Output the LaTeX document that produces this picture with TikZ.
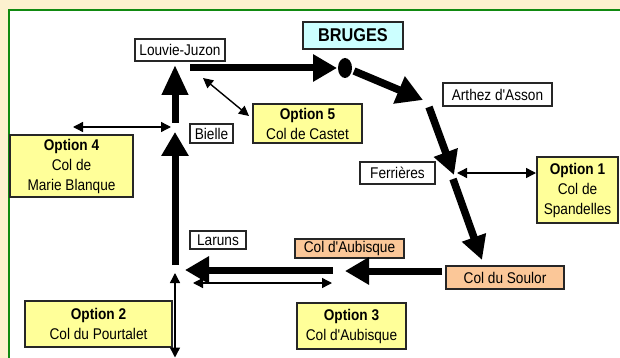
\documentclass[tikz,border=0pt]{standalone}
\usepackage{fontspec}
\setmainfont{Liberation Sans}[FakeStretch=0.88, Ligatures=TeXOff]
\usetikzlibrary{arrows.meta,shapes.geometric}
\definecolor{bgbeige}{HTML}{FDF1CF}
\definecolor{frgreen}{HTML}{118A11}
\definecolor{optyellow}{HTML}{FFFF99}
\definecolor{brcyan}{HTML}{CCFFFF}
\definecolor{colsalmon}{HTML}{FBC798}
\tikzset{
  lbl/.style={draw=black!85, line width=1.1pt, fill=white, inner sep=0pt, font=\fontsize{15.5}{18}\selectfont, align=center},
  optbox/.style={draw=black!85, line width=1.4pt, fill=optyellow, inner sep=0pt, font=\fontsize{15.5}{20}\selectfont, align=center},
  colbox/.style={lbl, fill=colsalmon},
  bigarrow/.style={line width=7pt, -{Triangle[width=26pt,length=24pt]}},
  diagarrow/.style={line width=7.5pt, -{Triangle[width=28pt,length=26pt]}},
  thinarrow/.style={line width=1.4pt, {Triangle[width=10pt,length=10pt]}-{Triangle[width=10pt,length=10pt]}},
}
\begin{document}
\begin{tikzpicture}[x=1pt,y=-1pt]
\fill[bgbeige] (0,0) rectangle (620,358);
\useasboundingbox (0,0) rectangle (620,358);
\fill[white] (8.5,10.5) rectangle (621,359);
\draw[frgreen, line width=2pt] (621,10.5) -- (8.5,10.5) -- (8.5,359);

% nodes
\node[lbl, minimum width=90pt, minimum height=22pt] (lj) at (180,50) {Louvie-Juzon};
\node[lbl, fill=brcyan, minimum width=100pt, minimum height=27pt, font=\bfseries\fontsize{18.5}{20}\selectfont] (bruges) at (353,35.5) {BRUGES};
\node[lbl, minimum width=109pt, minimum height=23pt] (arthez) at (497.5,94.5) {Arthez d'Asson};
\node[lbl, minimum width=75pt, minimum height=22pt] (ferr) at (397.5,173) {Ferrières};
\node[optbox, minimum width=81pt, minimum height=66pt] (opt1) at (577.5,190) {\textbf{Option 1}\\Col de\\Spandelles};
\node[colbox, minimum width=118pt, minimum height=23pt] (soulor) at (505,277.5) {Col du Soulor};
\node[colbox, minimum width=109pt, minimum height=19pt] (aub) at (349.5,248.5) {Col d'Aubisque};
\node[lbl, minimum width=56pt, minimum height=18pt] (laruns) at (218,240) {Laruns};
\node[lbl, minimum width=43pt, minimum height=19pt] (bielle) at (211.5,133.5) {Bielle};
\node[optbox, minimum width=123pt, minimum height=62pt] (opt4) at (71.5,166) {\textbf{Option 4}\\Col de\\Marie Blanque};
\node[optbox, minimum width=109pt, minimum height=39pt] (opt5) at (307.5,123.5) {\textbf{Option 5}\\Col de Castet};
\node[optbox, minimum width=147pt, minimum height=46pt] (opt2) at (98.5,324) {\textbf{Option 2}\\Col du Pourtalet};
\node[optbox, minimum width=109pt, minimum height=46pt] (opt3) at (351.5,326) {\textbf{Option 3}\\Col d'Aubisque};
\node[ellipse, fill=black, minimum width=14pt, minimum height=20pt, inner sep=0pt] (dot) at (345,68) {};

% junction coordinates
\coordinate (ljA) at (190,68);
\coordinate (dotW) at (337,68);
\coordinate (dotE) at (354,71);
\coordinate (arthA) at (423,100);
\coordinate (arthB) at (429,107);
\coordinate (ferrA) at (454,175);
\coordinate (ferrB) at (453,179);
\coordinate (soulA) at (482,260);
\coordinate (soulW) at (442,271);
\coordinate (aubE) at (345,271);
\coordinate (aubW) at (333,270);
\coordinate (larA) at (185,270);
\coordinate (larB) at (175,265);
\coordinate (bieA) at (175,132);
\coordinate (bieB) at (175,123);
\coordinate (ljB) at (175,65);
\coordinate (t3a) at (193,283);
\coordinate (t3b) at (332,283);
\coordinate (t4a) at (73,127);
\coordinate (t4b) at (171,127);
\coordinate (t5a) at (203,78);
\coordinate (t5b) at (249,116);
\coordinate (t1a) at (457,173);
\coordinate (t1b) at (536,173);
\coordinate (t2a) at (175,273);
\coordinate (t2b) at (175,357.5);

% main route
\draw[bigarrow] (ljA) -- (dotW);
\draw[diagarrow] (dotE) -- (arthA);
\draw[diagarrow, -{Triangle[width=24pt,length=24pt]}] (arthB) -- (ferrA);
\draw[diagarrow, -{Triangle[width=24pt,length=24pt]}] (ferrB) -- (soulA);
\draw[bigarrow] (soulW) -- (aubE);
\draw[bigarrow] (aubW) -- (larA);
\draw[bigarrow] (larB) -- (bieA);
\draw[bigarrow, -{Triangle[width=25pt,length=30pt]}] (bieB) -- (ljB);

% option arrows
\draw[thinarrow] (t3a) -- (t3b);
\draw[thinarrow] (t4a) -- (t4b);
\draw[thinarrow] (t5a) -- (t5b);
\draw[thinarrow] (t1a) -- (t1b);
\draw[thinarrow] (t2a) -- (t2b);
\end{tikzpicture}
\end{document}
